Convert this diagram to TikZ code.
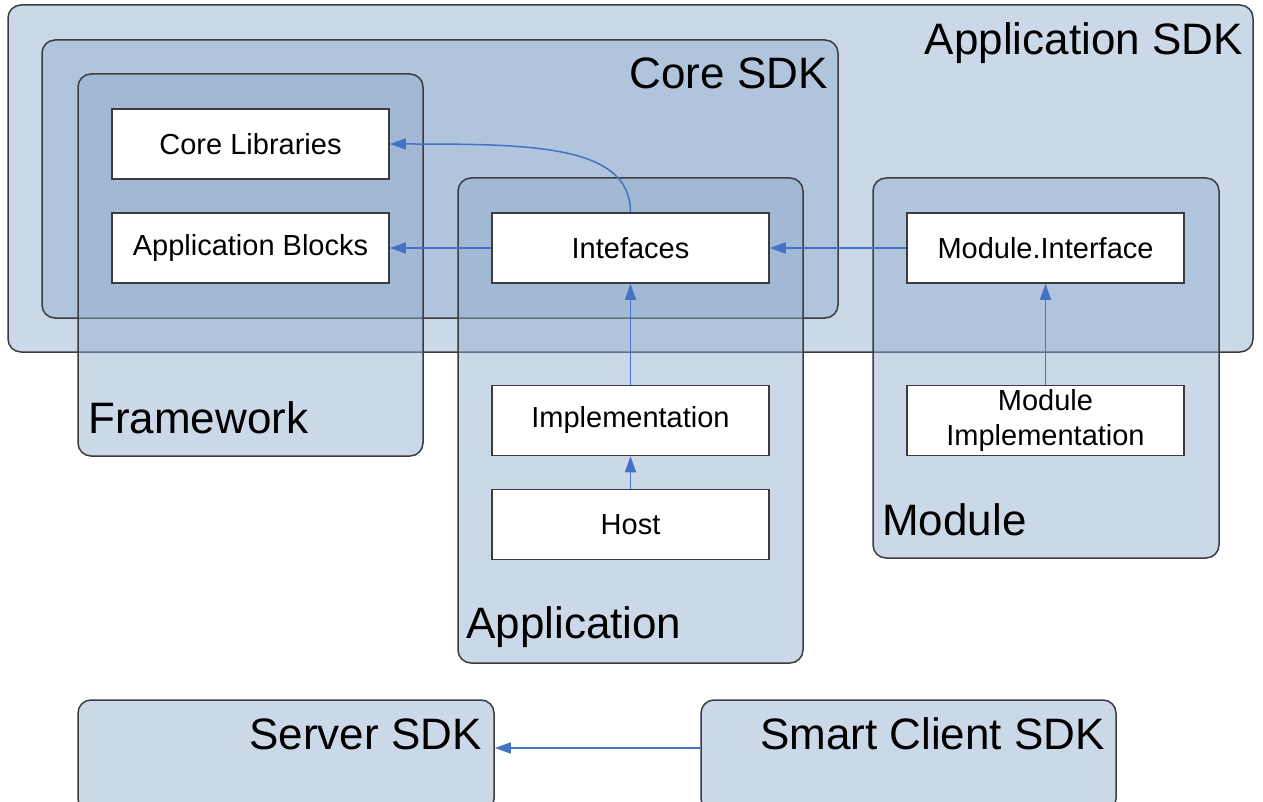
\documentclass[tikz,border=0pt]{standalone}
\usepackage{fontspec}
\setmainfont{Liberation Sans}
\usetikzlibrary{arrows.meta}
\definecolor{boxfill}{RGB}{147,174,207}
\definecolor{boxline}{RGB}{60,60,64}
\definecolor{arrowblue}{RGB}{68,114,196}
\begin{document}
\begin{tikzpicture}[x=1pt,y=-1pt,
  container/.style={draw=boxline, line width=1.5pt, fill=boxfill, fill opacity=0.48,
    rounded corners=13pt, inner sep=0pt},
  part/.style={draw=boxline, line width=1.5pt, fill=white, minimum width=277pt,
    minimum height=70pt, inner sep=0pt, align=center,
    font=\fontsize{29}{35}\selectfont},
  title/.style={inner sep=0pt, font=\fontsize{44}{50}\selectfont},
  arr/.style={draw=arrowblue, line width=1.5pt, -{Triangle[length=16pt,width=11pt]}}]
\useasboundingbox (0,0) rectangle (1263,802);
\clip (0,0) rectangle (1263,802);

% layered containers
\node[container, minimum width=1245pt, minimum height=347pt] (appsdk) at (630.5,178.5) {};
\node[container, minimum width=796pt, minimum height=278pt] (coresdk) at (440,179) {};
\node[container, minimum width=345pt, minimum height=382pt] (framework) at (250.5,265) {};
\node[container, minimum width=345pt, minimum height=485pt] (application) at (630.5,420.5) {};
\node[container, minimum width=346pt, minimum height=380pt] (module) at (1046,368) {};
\node[container, minimum width=416pt, minimum height=112pt] (server) at (286,756) {};
\node[container, minimum width=415pt, minimum height=112pt] (smart) at (908.5,756) {};

% container titles
\node[title, anchor=base east] (tappsdk) at (1243,55) {Application SDK};
\node[title, anchor=base east] (tcoresdk) at (828,89) {Core SDK};
\node[title, anchor=base west] (tframework) at (88,433) {Framework};
\node[title, anchor=base west] (tapplication) at (466,638) {Application};
\node[title, anchor=base west] (tmodule) at (882,535) {Module};
\node[title, anchor=base east] (tserver) at (482,749) {Server SDK};
\node[title, anchor=base east] (tsmart) at (1105,749) {Smart Client SDK};

% components
\node[part] (corelib) at (250.5,144) {Core Libraries};
\node[part] (appblocks) at (250.5,248) {Application Blocks};
\node[part] (interfaces) at (630.5,248) {Intefaces};
\node[part] (modiface) at (1045.5,248) {Module.Interface};
\node[part] (impl) at (630.5,420.5) {Implementation};
\node[part] (host) at (630.5,524.5) {Host};
\node[part] (modimpl) at (1045.5,420.5) {Module\\Implementation};

% dependencies
\draw[arr] (interfaces.west) -- (appblocks.east);
\draw[arr] (modiface.west) -- (interfaces.east);
\draw[arr] (interfaces.north) .. controls +(0,-68) and +(140,0) .. (corelib.east);
\draw[arr] (impl.north) -- (interfaces.south);
\draw[arr] (host.north) -- (impl.south);
\draw[arr] (modimpl.north) -- (modiface.south);
\draw[arr] ([yshift=8pt]smart.west) -- ([yshift=8pt]server.east);
\end{tikzpicture}
\end{document}
